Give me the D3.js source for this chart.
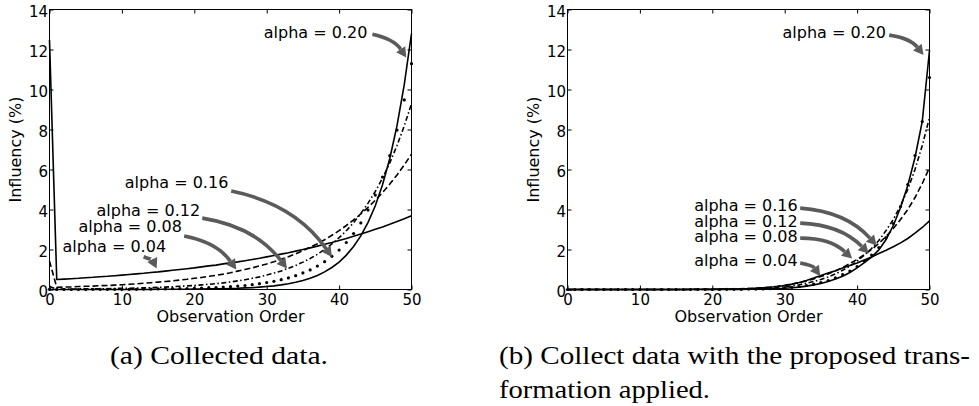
<!DOCTYPE html>
<html>
<head>
<meta charset="utf-8">
<script src="https://cdn.jsdelivr.net/npm/d3@7"></script>
<style>
  body { margin: 0; background: #fff; }
  svg { display: block; }
</style>
</head>
<body>
<svg id="drawing_region" width="979" height="406"></svg>
<script>
// observation order (x) shared by every curve
const order = [0,1,2,3,4,5,6,7,8,9,10,11,12,13,14,15,16,17,18,19,20,
  21,22,23,24,25,26,27,28,29,30,31,32,33,34,35,36,37,38,39,40,
  41,42,43,44,45,46,47,48,49,50];

const alphaLabels = ["alpha = 0.04", "alpha = 0.08", "alpha = 0.12", "alpha = 0.16", "alpha = 0.20"];
const xTicks = [0, 10, 20, 30, 40, 50];
const yTicks = [0, 2, 4, 6, 8, 10, 12, 14];

// (a) collected data, influency in %
const collected04 = [12.47, 0.50,0.52,0.54,0.56,0.59,0.61,0.64,0.66,0.69,0.72,
  0.75,0.78,0.81,0.85,0.88,0.92,0.96,1.00,1.04,1.08,
  1.13,1.18,1.22,1.28,1.33,1.38,1.44,1.50,1.56,1.63,
  1.70,1.77,1.84,1.92,2.00,2.08,2.17,2.26,2.35,2.45,
  2.55,2.66,2.77,2.89,3.01,3.13,3.26,3.40,3.54,3.69];
const collected08 = [1.42, 0.11,0.12,0.13,0.15,0.16,0.17,0.19,0.20,0.22,0.24,
  0.26,0.28,0.31,0.34,0.37,0.40,0.43,0.47,0.51,0.56,
  0.60,0.66,0.71,0.77,0.84,0.92,1.00,1.08,1.18,1.28,
  1.39,1.51,1.64,1.78,1.94,2.11,2.29,2.49,2.71,2.94,
  3.20,3.48,3.78,4.11,4.46,4.85,5.27,5.73,6.23,6.77];
const collected12 = [0.15, 0.02,0.02,0.02,0.03,0.03,0.03,0.04,0.04,0.05,0.06,
  0.06,0.07,0.08,0.09,0.11,0.12,0.14,0.16,0.18,0.20,
  0.23,0.26,0.29,0.33,0.38,0.43,0.49,0.56,0.63,0.72,
  0.82,0.93,1.06,1.20,1.37,1.55,1.76,2.00,2.28,2.59,
  2.94,3.34,3.80,4.32,4.90,5.57,6.33,7.20,8.18,9.29];
const collected16 = [0.01, 0.00,0.00,0.00,0.00,0.00,0.01,0.01,0.01,0.01,0.01,
  0.01,0.01,0.02,0.02,0.03,0.03,0.04,0.04,0.05,0.06,
  0.07,0.09,0.10,0.12,0.14,0.17,0.20,0.24,0.29,0.35,
  0.41,0.49,0.58,0.69,0.83,0.98,1.17,1.39,1.66,1.97,
  2.35,2.80,3.33,3.97,4.72,5.62,6.69,7.97,9.48,11.29];
const collected20 = [0.00, 0.00,0.00,0.00,0.00,0.00,0.00,0.00,0.00,0.00,0.00,
  0.00,0.00,0.00,0.00,0.01,0.01,0.01,0.01,0.01,0.02,
  0.02,0.03,0.03,0.04,0.05,0.06,0.08,0.09,0.12,0.15,
  0.18,0.23,0.29,0.36,0.45,0.56,0.70,0.88,1.10,1.37,
  1.72,2.15,2.68,3.36,4.19,5.24,6.55,8.19,10.24,12.80];

// (b) collected data with the proposed transformation applied
const transformed04 = [0.00, 0.00,0.00,0.00,0.00,0.00,0.00,0.00,0.00,0.00,0.00,
  0.00,0.00,0.00,0.00,0.00,0.00,0.01,0.01,0.01,0.01,
  0.01,0.02,0.02,0.03,0.04,0.06,0.08,0.11,0.15,0.20,
  0.27,0.35,0.45,0.57,0.70,0.82,0.94,1.07,1.20,1.33,
  1.48,1.63,1.80,1.96,2.14,2.33,2.55,2.82,3.10,3.43];
const transformed08 = [0.00, 0.00,0.00,0.00,0.00,0.00,0.00,0.00,0.00,0.00,0.00,
  0.00,0.00,0.00,0.00,0.00,0.00,0.00,0.01,0.01,0.01,
  0.02,0.02,0.03,0.04,0.05,0.07,0.09,0.12,0.16,0.21,
  0.27,0.34,0.43,0.53,0.65,0.78,0.93,1.10,1.30,1.50,
  1.75,2.00,2.30,2.65,3.05,3.50,4.00,4.60,5.30,6.10];
const transformed12 = [0.00, 0.00,0.00,0.00,0.00,0.00,0.00,0.00,0.00,0.00,0.00,
  0.00,0.00,0.00,0.00,0.00,0.00,0.00,0.00,0.00,0.00,
  0.01,0.01,0.01,0.02,0.03,0.04,0.05,0.07,0.10,0.14,
  0.18,0.24,0.31,0.40,0.50,0.63,0.78,0.96,1.17,1.42,
  1.72,2.05,2.45,2.95,3.50,4.20,5.00,6.00,7.20,8.60];
const transformed16 = [0.00, 0.00,0.00,0.00,0.00,0.00,0.00,0.00,0.00,0.00,0.00,
  0.00,0.00,0.00,0.00,0.00,0.00,0.00,0.00,0.00,0.00,
  0.00,0.01,0.01,0.01,0.02,0.02,0.03,0.04,0.06,0.08,
  0.11,0.15,0.20,0.27,0.35,0.45,0.58,0.74,0.92,1.15,
  1.42,1.72,2.10,2.60,3.30,4.15,5.25,6.70,8.40,10.60];
const transformed20 = [0.00, 0.00,0.00,0.00,0.00,0.00,0.00,0.00,0.00,0.00,0.00,
  0.00,0.00,0.00,0.00,0.00,0.00,0.00,0.00,0.00,0.00,
  0.00,0.00,0.00,0.00,0.01,0.01,0.02,0.03,0.04,0.06,
  0.09,0.12,0.17,0.23,0.30,0.40,0.52,0.66,0.85,1.08,
  1.34,1.62,1.98,2.50,3.20,4.10,5.20,6.60,8.40,11.95];

// line look of each alpha (same order as alphaLabels)
const seriesStyle = [
  { dash: null },
  { dash: "6,3" },
  { dash: "5,2.5,1.5,2.5" },
  { dots: true },
  { dash: null }
];

// annotation placement in data units: text right end / baseline, arrow start, arrow tip
const notesA = [
  { tx: 16.1, ty: 1.88, sx: 13.0, sy: 1.64, ex: 14.8, ey: 1.05 },
  { tx: 18.3, ty: 2.87, sx: 18.6, sy: 2.67, ex: 25.8, ey: 1.00 },
  { tx: 20.8, ty: 3.67, sx: 21.1, sy: 3.57, ex: 32.8, ey: 1.05 },
  { tx: 24.7, ty: 5.07, sx: 25.1, sy: 4.92, ex: 39.0, ey: 1.63 },
  { tx: 43.9, ty: 12.57, sx: 44.6, sy: 12.76, ex: 49.27, ey: 11.6 }
];
const notesB = [
  { tx: 31.8, ty: 1.17, sx: 32.14, sy: 1.32, ex: 34.9, ey: 0.67 },
  { tx: 31.8, ty: 2.36, sx: 32.14, sy: 2.57, ex: 39.3, ey: 1.55 },
  { tx: 31.8, ty: 3.13, sx: 32.14, sy: 3.32, ex: 41.6, ey: 1.80 },
  { tx: 31.8, ty: 3.93, sx: 32.14, sy: 4.07, ex: 42.7, ey: 2.20 },
  { tx: 44.0, ty: 12.58, sx: 44.43, sy: 12.72, ex: 49.17, ey: 11.72 }
];

const config = {
  width: 362,
  height: 280,
  top: 9.5,
  lefts: [49.5, 567.5]
};

const svg = d3.select("#drawing_region");

const xscale = d3.scaleLinear().domain([0, 50]).range([0, config.width]);
const yscale = d3.scaleLinear().domain([0, 14]).range([config.height, 0]);

const line = d3.line()
  .x((d, i) => xscale(order[i]))
  .y(d => yscale(d));

function drawPanel(left, series, notes) {
  const chart = svg.append("g")
    .attr("transform", `translate(${left}, ${config.top})`);

  chart.append("rect")
    .attr("width", config.width)
    .attr("height", config.height)
    .attr("fill", "none")
    .attr("stroke", "#000")
    .attr("stroke-width", 1);

  // ticks point inward on all four sides, labels only bottom / left
  chart.append("g")
    .attr("transform", `translate(0, ${config.height})`)
    .call(d3.axisBottom(xscale).tickValues(xTicks).tickSizeInner(-4).tickSizeOuter(0).tickPadding(4.5));
  const leftAx = chart.append("g")
    .call(d3.axisLeft(yscale).tickValues(yTicks).tickSizeInner(-4).tickSizeOuter(0).tickPadding(1.5));
  chart.append("g")
    .call(d3.axisTop(xscale).tickValues(xTicks).tickSizeInner(-4).tickSizeOuter(0).tickFormat(""));
  chart.append("g")
    .attr("transform", `translate(${config.width}, 0)`)
    .call(d3.axisRight(yscale).tickValues(yTicks).tickSizeInner(-4).tickSizeOuter(0).tickFormat(""));

  chart.selectAll(".domain").remove();
  chart.selectAll(".tick line").attr("stroke", "#000");
  chart.selectAll(".tick text")
    .attr("fill", "#000")
    .style("font-family", "DejaVu Sans")
    .style("font-size", "15px");
  leftAx.selectAll(".tick text").attr("dy", "0.45em");

  chart.append("text")
    .attr("x", config.width / 2)
    .attr("y", config.height + 32.5)
    .attr("text-anchor", "middle")
    .style("font-family", "DejaVu Sans")
    .style("font-size", "16px")
    .text("Observation Order");

  chart.append("text")
    .attr("transform", `translate(-28.5, ${config.height / 2}) rotate(-90)`)
    .attr("text-anchor", "middle")
    .style("font-family", "DejaVu Sans")
    .style("font-size", "16px")
    .text("Influency (%)");

  series.forEach((values, k) => {
    const st = seriesStyle[k];
    if (st.dots) {
      chart.append("g").selectAll("circle")
        .data(values)
        .join("circle")
        .attr("cx", (d, i) => xscale(order[i]))
        .attr("cy", d => yscale(d))
        .attr("r", 1.6)
        .attr("fill", "#000");
    } else {
      chart.append("path")
        .datum(values)
        .attr("d", line)
        .attr("fill", "none")
        .attr("stroke", "#000")
        .attr("stroke-width", 1.6)
        .attr("stroke-dasharray", st.dash);
    }
  });

  // curved gray arrows (arc3 rad=-0.2 look)
  notes.forEach((n, k) => {
    const sx = xscale(n.sx), sy = yscale(n.sy);
    const ex = xscale(n.ex), ey = yscale(n.ey);
    const dx = ex - sx, dy = ey - sy;
    const cx = (sx + ex) / 2 + 0.2 * dy;
    const cy = (sy + ey) / 2 - 0.2 * dx;
    const tl = Math.hypot(ex - cx, ey - cy);
    const ux = (ex - cx) / tl, uy = (ey - cy) / tl;
    const head = 10, half = 5.5;
    const bx = ex - ux * head, by = ey - uy * head;
    chart.append("path")
      .attr("d", `M${sx},${sy}Q${cx},${cy} ${bx},${by}`)
      .attr("fill", "none")
      .attr("stroke", "#5b5b5b")
      .attr("stroke-width", 3.6);
    chart.append("path")
      .attr("d", `M${ex},${ey}L${bx - uy * half},${by + ux * half}L${bx + uy * half},${by - ux * half}Z`)
      .attr("fill", "#5b5b5b");
    chart.append("text")
      .attr("x", xscale(n.tx))
      .attr("y", yscale(n.ty))
      .attr("text-anchor", "end")
      .style("font-family", "DejaVu Sans")
      .style("font-size", "16px")
      .text(alphaLabels[k]);
  });
}

drawPanel(config.lefts[0], [collected04, collected08, collected12, collected16, collected20], notesA);
drawPanel(config.lefts[1], [transformed04, transformed08, transformed12, transformed16, transformed20], notesB);

// captions
const captions = [
  { x: 110, y: 364, len: 218, text: "(a) Collected data." },
  { x: 499, y: 364, len: 471, text: "(b) Collect data with the proposed trans-" },
  { x: 499, y: 398, len: 211, text: "formation applied." }
];
svg.selectAll(".caption")
  .data(captions)
  .join("text")
  .attr("class", "caption")
  .attr("x", d => d.x)
  .attr("y", d => d.y)
  .attr("textLength", d => d.len)
  .attr("lengthAdjust", "spacingAndGlyphs")
  .style("font-family", "'Liberation Serif', 'Times New Roman', serif")
  .style("font-size", "26px")
  .text(d => d.text);
</script>
</body>
</html>
